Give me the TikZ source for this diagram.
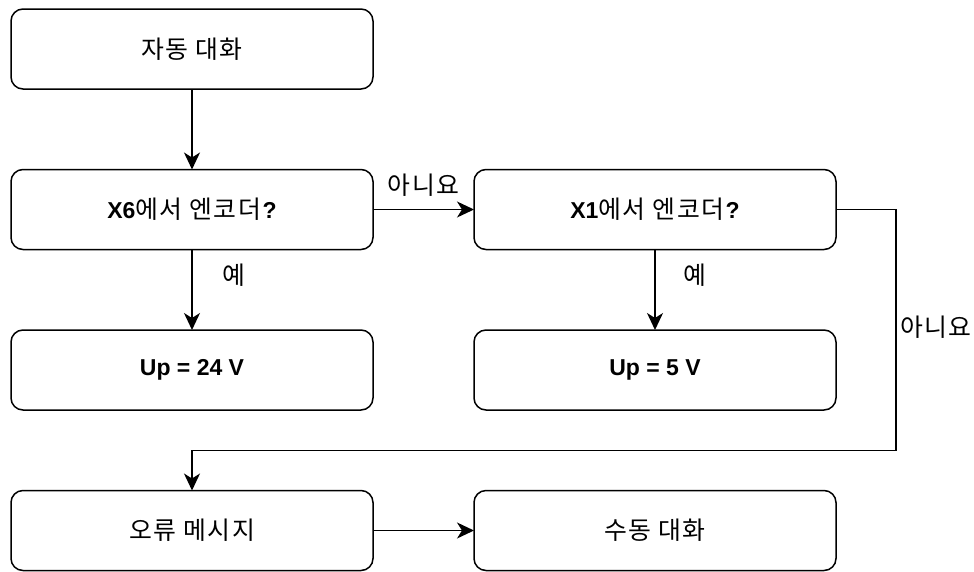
\documentclass[tikz,border=0pt]{standalone}
\usepackage{fontspec}
\setmainfont{Liberation Sans}
\newfontfamily\kr[Scale=1.08, LetterSpace=6]{Noto Sans CJK KR}
\usetikzlibrary{positioning, arrows.meta}

\begin{document}
\begin{tikzpicture}[
    node distance=80.5pt and 101pt,
    box/.style={draw, rounded corners=12pt, line width=1.5pt, outer sep=0pt,
                minimum width=362pt, minimum height=80pt,
                font=\fontsize{23}{27}\selectfont},
    lbl/.style={inner sep=0pt, font=\fontsize{23}{27}\selectfont},
    flow/.style={line width=1.5pt, -{Stealth[length=17pt, width=16pt, inset=5pt]}}]
    \useasboundingbox (0,0) rectangle (974pt,-571pt);

    % bloques
    \node [box] (auto) at (192pt,-49pt) {\kr 자동 대화};
    \node [box] (x6) [below=of auto] {\textbf{X6}{\kr 에서 엔코더}\textbf{?}};
    \node [box] (x1) [right=of x6] {\textbf{X1}{\kr 에서 엔코더}\textbf{?}};
    \node [box] (up24) [below=of x6] {\textbf{Up = 24 V}};
    \node [box] (up5) [below=of x1] {\textbf{Up = 5 V}};
    \node [box] (err) [below=of up24] {\kr 오류 메시지};
    \node [box] (manual) [right=of err] {\kr 수동 대화};

    % flechas
    \draw [flow] (auto) -- (x6);
    \draw [flow] (x6) -- node [lbl, yshift=24pt] {\kr 아니요} (x1);
    \draw [flow] (x6) -- node [lbl, pos=0.32, anchor=west, xshift=30pt] {\kr 예} (up24);
    \draw [flow] (x1) -- node [lbl, pos=0.32, anchor=west, xshift=28pt] {\kr 예} (up5);
    \draw [flow] (x1.east) -- ++(60pt,0)
        |- node [lbl, pos=0.245, xshift=40pt] {\kr 아니요} ([yshift=40pt]err.north)
        -- (err.north);
    \draw [flow] (err) -- (manual);
\end{tikzpicture}
\end{document}
